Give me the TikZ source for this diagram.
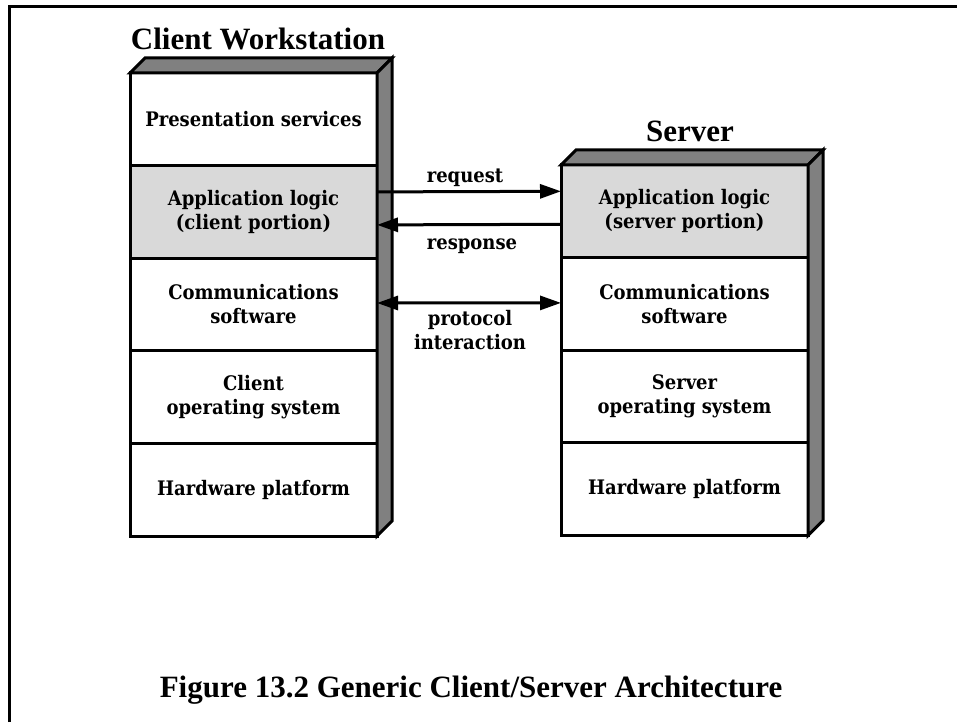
\documentclass[tikz,border=0pt]{standalone}
\usepackage{fontspec}
\setmainfont{Liberation Serif}
\newfontfamily\boxfam{DejaVu Serif Condensed}
\usetikzlibrary{positioning,arrows.meta}
\definecolor{sidegray}{gray}{0.5}
\definecolor{appgray}{gray}{0.85}
\newcommand{\boxfont}{\fontsize{20}{24}\selectfont\boxfam\bfseries}
\newcommand{\headfont}{\fontsize{31}{34}\selectfont\rmfamily\bfseries}

\begin{document}
\begin{tikzpicture}[x=1pt,y=-1pt,
    layer/.style={draw,line width=3pt,fill=white,minimum width=247pt,
      minimum height=92.6pt,outer sep=0pt,inner sep=2pt,align=center,font=\boxfont},
    app/.style={layer,fill=appgray},
    face/.style={draw,line width=3pt,fill=sidegray,line join=miter},
    conn/.style={line width=3pt,-{Triangle[length=21pt,width=14pt]}},
    lbl/.style={font=\boxfont,align=center}]
    \useasboundingbox (0,0) rectangle (957,722);
    \draw[line width=3pt] (9,722) -- (9,7) -- (957,7);
    % client workstation
    \node[layer] (cl1) at (253.5,119.3) {Presentation services};
    \node[app,below=0pt of cl1] (cl2) {Application logic\\(client portion)};
    \node[layer,below=0pt of cl2] (cl3) {Communications\\software};
    \node[layer,below=0pt of cl3] (cl4) {Client\\operating system};
    \node[layer,below=0pt of cl4] (cl5) {Hardware platform};
    \draw[face] (cl1.north west) -- ([shift={(15,-15)}]cl1.north west)
      -- ([shift={(15,-15)}]cl1.north east) -- (cl1.north east) -- cycle;
    \draw[face] (cl1.north east) -- ([shift={(15,-15)}]cl1.north east)
      -- ([shift={(15,-15)}]cl5.south east) -- (cl5.south east) -- cycle;
    \node[font=\headfont,anchor=base] (clt) at (258,50) {Client Workstation};
    % server
    \node[app] (sv1) at (684.5,211.3) {Application logic\\(server portion)};
    \node[layer,below=0pt of sv1] (sv2) {Communications\\software};
    \node[layer,below=0pt of sv2] (sv3) {Server\\operating system};
    \node[layer,below=0pt of sv3] (sv4) {Hardware platform};
    \draw[face] (sv1.north west) -- ([shift={(15,-15)}]sv1.north west)
      -- ([shift={(15,-15)}]sv1.north east) -- (sv1.north east) -- cycle;
    \draw[face] (sv1.north east) -- ([shift={(15,-15)}]sv1.north east)
      -- ([shift={(15,-15)}]sv4.south east) -- (sv4.south east) -- cycle;
    \node[font=\headfont,anchor=base] (svt) at (690,142) {Server};
    % connectors
    \draw[conn] ([yshift=20pt]cl2.east) -- ([yshift=20pt]sv1.west);
    \draw[conn] ([yshift=-13pt]sv1.west) -- ([yshift=-13pt]cl2.east);
    \draw[conn,{Triangle[length=21pt,width=14pt]}-{Triangle[length=21pt,width=14pt]}]
      ([yshift=1.5pt]cl3.east) -- ([yshift=1pt]sv2.west);
    \node[lbl] (req) at (465,178) {request};
    \node[lbl] (resp) at (472,246) {response};
    \node[lbl] (prot) at (470,330) {protocol\\interaction};
    \node[font=\headfont,anchor=base] (cap) at (471,697)
      {Figure 13.2 Generic Client/Server Architecture};
\end{tikzpicture}
\end{document}
